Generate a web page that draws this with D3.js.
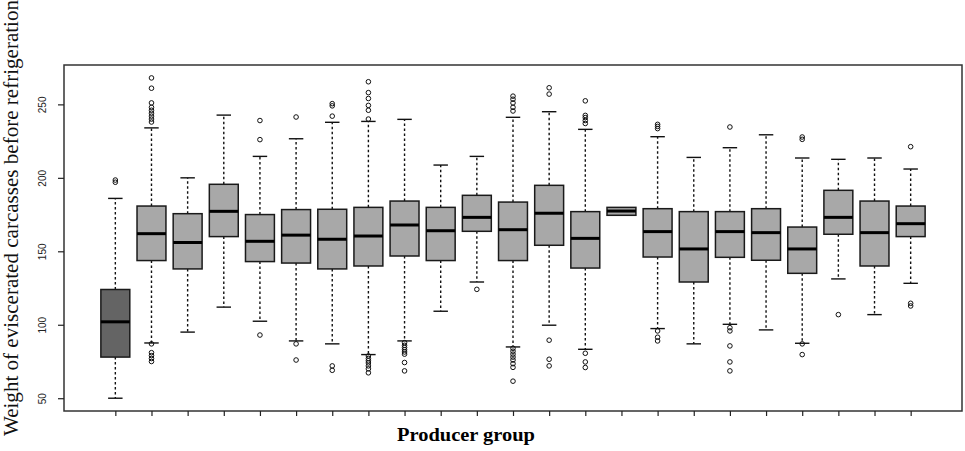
<!DOCTYPE html>
<html>
<head>
<meta charset="utf-8">
<script src="https://cdn.jsdelivr.net/npm/d3@7"></script>
<style>
  html, body { margin: 0; padding: 0; background: #fff; }
  svg { display: block; }
</style>
</head>
<body>
<svg id="chart" width="965" height="451"></svg>
<script>
// ---- data ----
const groups = d3.range(1, 24);
const whiskerLow  = [50, 87.6, 95, 112, 102.4, 89, 87, 79.7, 89, 109.2, 129.1, 84.9, 99.7, 83.3, 174.5, 97.4, 87, 100.3, 96.5, 87.4, 131.2, 106.9, 128.2];
const q1          = [78, 143.7, 138, 160, 143, 142, 138, 140, 146.8, 143.7, 163.6, 143.7, 154.1, 138.6, 174.5, 146.1, 129.1, 145.9, 143.9, 135, 161.6, 140, 160];
const medians     = [102, 162, 156, 177.2, 156.8, 161, 158.2, 160.4, 167.9, 164, 173.1, 164.7, 175.9, 158.8, 177.4, 163.4, 151.6, 163.4, 162.7, 151.6, 173.1, 162.7, 168.8];
const q3          = [124, 180.8, 175.6, 195.6, 175, 178.4, 178.6, 179.9, 184.2, 179.9, 188.1, 183.5, 194.9, 177, 179.9, 179, 177, 177, 179, 166.5, 191.5, 184.2, 180.8];
const whiskerHigh = [186, 234, 200, 242.7, 214.6, 226.6, 237.8, 238.4, 239.8, 208.7, 214.6, 241.2, 245, 233, 179.9, 228, 213.9, 220.5, 229.3, 213.5, 212.6, 213.5, 206];
const outliers = [
  [197, 198.5],
  [268, 261, 251, 248, 246, 244, 242, 240, 238, 87, 81, 79, 77, 75],
  [],
  [],
  [239, 226, 93],
  [241.4, 87, 76],
  [250.5, 249, 242, 72, 69],
  [265.4, 258, 254, 249.3, 246, 240, 78.8, 77, 75.5, 74, 72, 70, 67.3],
  [87.8, 86, 84.5, 83, 81.5, 80, 74.3, 68.6],
  [],
  [124.1],
  [255.6, 253.5, 251, 248, 245.5, 84, 82, 80, 78, 76, 73.5, 71, 61.6],
  [261.3, 257, 89.5, 76.5, 72],
  [252.4, 242.5, 241, 239, 237, 80.6, 74.7, 70.9],
  [],
  [236.4, 235, 233.5, 95.8, 91.5, 89],
  [],
  [234.6, 98, 95.8, 85.6, 74.7, 68.6],
  [],
  [227.8, 226.2, 87, 79.7],
  [106.9],
  [],
  [221.2, 114.6, 112.8]
];
const fills = ["#646464"].concat(d3.range(22).map(() => "#a8a8a8"));
const yTicks = [50, 100, 150, 200, 250];
const yTitle = "Weight of eviscerated carcasses before refrigeration";
const xTitle = "Producer group";

// ---- layout ----
const svg = d3.select("#chart");
const plot = { left: 64, right: 962, top: 65, bottom: 411 };
const n = groups.length;
const x = d3.scaleLinear().domain([0.5 - 0.04 * n, n + 0.5 + 0.04 * n]).range([plot.left, plot.right]);
const y = d3.scaleLinear().domain([41.3, 276.8]).range([plot.bottom, plot.top]);
const boxW = x(0.8) - x(0);

const rows = groups.map((g, i) => ({
  g, lo: whiskerLow[i], q1: q1[i], med: medians[i], q3: q3[i], hi: whiskerHigh[i],
  out: outliers[i], fill: fills[i]
}));

// whiskers (dashed)
const gB = svg.append("g");
rows.forEach(r => {
  const cx = x(r.g);
  if (r.hi > r.q3) {
    gB.append("line").attr("x1", cx).attr("x2", cx).attr("y1", y(r.q3)).attr("y2", y(r.hi))
      .attr("stroke", "#111").attr("stroke-width", 1.4).attr("stroke-dasharray", "2.5,2.5");
    gB.append("line").attr("x1", cx - boxW / 4).attr("x2", cx + boxW / 4).attr("y1", y(r.hi)).attr("y2", y(r.hi))
      .attr("stroke", "#111").attr("stroke-width", 1.4);
  }
  if (r.lo < r.q1) {
    gB.append("line").attr("x1", cx).attr("x2", cx).attr("y1", y(r.q1)).attr("y2", y(r.lo))
      .attr("stroke", "#111").attr("stroke-width", 1.4).attr("stroke-dasharray", "2.5,2.5");
    gB.append("line").attr("x1", cx - boxW / 4).attr("x2", cx + boxW / 4).attr("y1", y(r.lo)).attr("y2", y(r.lo))
      .attr("stroke", "#111").attr("stroke-width", 1.4);
  }
  gB.append("rect").attr("x", cx - boxW / 2).attr("width", boxW)
    .attr("y", y(r.q3)).attr("height", y(r.q1) - y(r.q3))
    .attr("fill", r.fill).attr("stroke", "#1a1a1a").attr("stroke-width", 1.5);
  gB.append("line").attr("x1", cx - boxW / 2).attr("x2", cx + boxW / 2).attr("y1", y(r.med)).attr("y2", y(r.med))
    .attr("stroke", "#000").attr("stroke-width", 3);
  gB.selectAll(null).data(r.out).enter().append("circle")
    .attr("cx", cx).attr("cy", d => y(d)).attr("r", 2.3)
    .attr("fill", "none").attr("stroke", "#111").attr("stroke-width", 1);
});

// frame
svg.append("rect").attr("x", plot.left).attr("y", plot.top)
  .attr("width", plot.right - plot.left).attr("height", plot.bottom - plot.top)
  .attr("fill", "none").attr("stroke", "#333").attr("stroke-width", 1.5);

// y axis
const yAxis = d3.axisLeft(y).tickValues(yTicks).tickSize(6).tickSizeOuter(0).tickFormat(d3.format("d"));
const gy = svg.append("g").attr("transform", `translate(${plot.left},0)`).call(yAxis);
gy.select(".domain").remove();
gy.selectAll(".tick line").attr("stroke", "#222").attr("stroke-width", 1.2);
gy.selectAll(".tick text")
  .attr("x", null).attr("dy", null)
  .attr("transform", "translate(-18,0) rotate(-90)")
  .attr("text-anchor", "middle")
  .attr("font-family", "Liberation Sans, Arial, sans-serif")
  .attr("font-size", 10).attr("fill", "#222");

// x axis (ticks only)
const xAxis = d3.axisBottom(x).tickValues(groups).tickSize(5).tickSizeOuter(0).tickFormat("");
const gx = svg.append("g").attr("transform", `translate(0,${plot.bottom})`).call(xAxis);
gx.select(".domain").remove();
gx.selectAll(".tick line").attr("stroke", "#222").attr("stroke-width", 1.2);

// titles
svg.append("text")
  .attr("transform", "translate(18,436) rotate(-90)")
  .attr("text-anchor", "start")
  .attr("font-family", "Liberation Serif, Times New Roman, serif")
  .attr("font-size", 20)
  .attr("textLength", 436).attr("lengthAdjust", "spacingAndGlyphs")
  .attr("fill", "#111")
  .text(yTitle);

svg.append("text")
  .attr("x", 466).attr("y", 441)
  .attr("text-anchor", "middle")
  .attr("font-family", "Liberation Serif, Times New Roman, serif")
  .attr("font-weight", "bold")
  .attr("font-size", 18)
  .attr("textLength", 138).attr("lengthAdjust", "spacingAndGlyphs")
  .attr("fill", "#000")
  .text(xTitle);
</script>
</body>
</html>
